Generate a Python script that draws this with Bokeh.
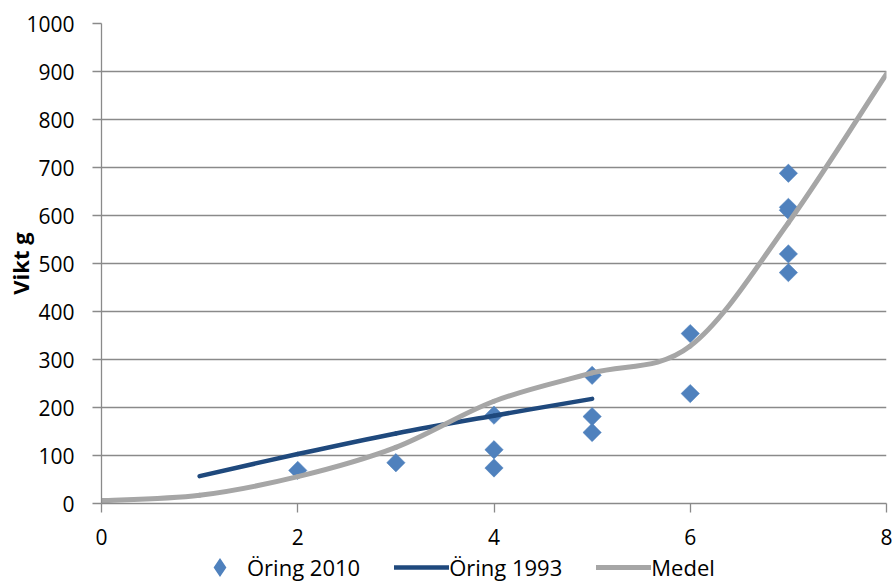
import math
from bokeh.plotting import figure
from bokeh.layouts import column
from bokeh.models import Range1d, FixedTicker, Legend, LegendItem
from bokeh.embed import file_html
from bokeh.resources import INLINE

# ---- data ----
ages_2010 = [2, 3, 4, 4, 4, 5, 5, 5, 6, 6, 7, 7, 7, 7, 7]
weights_2010 = [69, 85, 184, 112, 74, 267, 181, 148, 354, 229, 688, 617, 611, 520, 481]

ages_1993 = [1, 2, 3, 4, 5]
weights_1993 = [57, 103, 146, 183, 218]

ages_medel = [0, 1, 2, 3, 4, 5, 6, 7, 8]
weights_medel = [6, 17, 56, 117, 213, 272, 328, 585, 895]

x_ticks = [0, 2, 4, 6, 8]
y_ticks = [0, 100, 200, 300, 400, 500, 600, 700, 800, 900, 1000]

series_labels = ["Öring 2010", "Öring 1993", "Medel"]
y_title = "Vikt g"

FONT = "Open Sans"
GRID = "#8A8A8A"
C2010 = "#4F81BD"
C1993 = "#1F497D"
CMED = "#A6A6A6"


def smooth_segments(xs, ys, t=1.0 / 6.0):
    """Bezier control points for a smoothed line through the data points."""
    n = len(xs)
    seg = dict(x0=[], y0=[], x1=[], y1=[], cx0=[], cy0=[], cx1=[], cy1=[])
    for i in range(n - 1):
        ip = max(i - 1, 0)
        inn = min(i + 2, n - 1)
        seg["x0"].append(xs[i])
        seg["y0"].append(ys[i])
        seg["x1"].append(xs[i + 1])
        seg["y1"].append(ys[i + 1])
        seg["cx0"].append(xs[i] + (xs[i + 1] - xs[ip]) * t)
        seg["cy0"].append(ys[i] + (ys[i + 1] - ys[ip]) * t)
        seg["cx1"].append(xs[i + 1] - (xs[inn] - xs[i]) * t)
        seg["cy1"].append(ys[i + 1] - (ys[inn] - ys[i]) * t)
    return seg


p = figure(
    width=893,
    height=552,
    x_range=Range1d(0, 8),
    y_range=Range1d(0, 1000),
    output_backend="svg",
    toolbar_location=None,
    min_border_left=101,
    min_border_right=7,
    min_border_top=23,
    min_border_bottom=49,
)
p.outline_line_color = None
p.background_fill_color = "white"
p.border_fill_color = "white"

# grid
p.xgrid.visible = False
p.ygrid.ticker = FixedTicker(ticks=y_ticks)
p.ygrid.grid_line_color = GRID
p.ygrid.grid_line_width = 1.3

# axes
for ax in (p.xaxis[0], p.yaxis[0]):
    ax.axis_line_color = GRID
    ax.axis_line_width = 1.3
    ax.major_tick_line_color = GRID
    ax.major_tick_line_width = 1.3
    ax.major_tick_in = 0
    ax.minor_tick_in = 0
    ax.minor_tick_out = 0
    ax.major_label_text_font = FONT
    ax.major_label_text_font_size = "21px"
    ax.major_label_text_color = "#000000"

p.xaxis.ticker = FixedTicker(ticks=x_ticks)
p.xaxis.major_tick_out = 9
p.xaxis.major_label_standoff = 16
p.yaxis.ticker = FixedTicker(ticks=y_ticks)
p.yaxis.major_tick_out = 9
p.yaxis.major_label_standoff = 18

p.yaxis.axis_label = y_title
p.yaxis.axis_label_text_font = FONT
p.yaxis.axis_label_text_font_style = "bold"
p.yaxis.axis_label_text_font_size = "22px"
p.yaxis.axis_label_text_color = "#000000"
p.yaxis.axis_label_standoff = -12

# series
p.scatter(ages_2010, weights_2010, marker="square", angle=math.pi / 4,
          size=13, fill_color=C2010, line_color=C2010, line_width=0.5)

s93 = smooth_segments(ages_1993, weights_1993)
p.bezier(line_color=C1993, line_width=4.5, line_cap="round", **s93)

sm = smooth_segments(ages_medel, weights_medel)
p.bezier(line_color=CMED, line_width=5, line_cap="round", **sm)

# ---- legend strip below the chart (its ranges keep the key renderers out of view) ----
lf = figure(
    width=893,
    height=30,
    x_range=Range1d(-100, -99),
    y_range=Range1d(-100, -99),
    output_backend="svg",
    toolbar_location=None,
    x_axis_location=None,
    y_axis_location=None,
    min_border_left=0,
    min_border_right=0,
    min_border_top=0,
    min_border_bottom=0,
)
lf.outline_line_color = None
lf.xgrid.visible = False
lf.ygrid.visible = False
lf.background_fill_color = "white"
lf.border_fill_color = "white"

k2010 = lf.scatter(ages_2010, weights_2010, marker="diamond", size=18,
                   fill_color=C2010, line_color=C2010, line_width=4, line_join="miter")
k1993 = lf.line(ages_1993, weights_1993, line_color=C1993, line_width=4.5, line_cap="round")
kmed = lf.line(ages_medel, weights_medel, line_color=CMED, line_width=5, line_cap="round")

legend = Legend(
    items=[
        LegendItem(label=series_labels[0], renderers=[k2010]),
        LegendItem(label=series_labels[1], renderers=[k1993]),
        LegendItem(label=series_labels[2], renderers=[kmed]),
    ],
    location=(91, 0),
    orientation="horizontal",
    glyph_width=55,
    glyph_height=30,
    label_height=20,
    label_standoff=0,
    spacing=34,
    padding=0,
    margin=0,
    border_line_color=None,
    background_fill_alpha=0,
    label_text_font=FONT,
    label_text_font_size="22px",
    label_text_color="#000000",
)
lf.add_layout(legend)

open("out.html", "w").write(file_html(column(p, lf, spacing=0), INLINE))
